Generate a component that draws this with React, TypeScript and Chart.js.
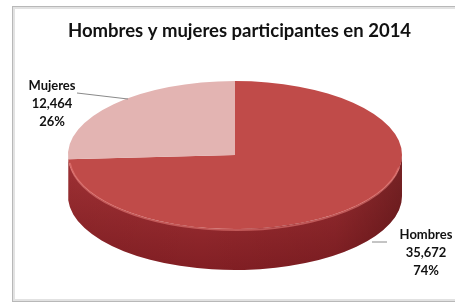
import React, { useEffect, useRef } from 'react';
import { Chart, registerables } from 'chart.js';

Chart.register(...registerables);

const categories = ['Hombres', 'Mujeres'];
const values = [35672, 12464];
const titleText = 'Hombres y mujeres participantes en 2014';
const topColors = ['#C04B49', '#E3B4B2'];
const sideTopColors = ['#A9363A', '#C99593'];
const sideBottomColors = ['#821F24', '#A06A68'];

const total = values.reduce((a, b) => a + b, 0);
const valueLabels = values.map((v) => v.toLocaleString('en-US'));
const percentLabels = values.map((v) => Math.round((v / total) * 100) + '%');

const FONT = 'Lato, "Open Sans", "DejaVu Sans", sans-serif';

const framePlugin = {
  id: 'frame',
  beforeDraw(chart: any) {
    const ctx = chart.ctx;
    ctx.save();
    ctx.fillStyle = '#ffffff';
    ctx.fillRect(0, 0, chart.width, chart.height);
    ctx.strokeStyle = '#e2e2e2';
    ctx.lineWidth = 3;
    ctx.strokeRect(13.5, 7.5, 470, 293);
    ctx.strokeStyle = '#b8b8b8';
    ctx.lineWidth = 1;
    ctx.strokeRect(12.5, 6.5, 470, 295);
    ctx.restore();
  },
};

const pie3dPlugin = {
  id: 'pie3d',
  beforeDatasetDraw(chart: any, args: any, opts: any) {
    const ctx = chart.ctx;
    const arcs = args.meta.data;
    const { cx, cy, rx, ry, depth } = opts;
    arcs.forEach((arc: any, i: number) => {
      const ranges = [
        [0, Math.PI],
        [2 * Math.PI, 3 * Math.PI],
        [-2 * Math.PI, -Math.PI],
      ];
      ranges.forEach(([lo, hi]) => {
        const a = Math.max(arc.startAngle, lo);
        const b = Math.min(arc.endAngle, hi);
        if (b <= a) return;
        const g = ctx.createLinearGradient(0, cy, 0, cy + ry + depth);
        g.addColorStop(0, sideTopColors[i]);
        g.addColorStop(1, sideBottomColors[i]);
        ctx.save();
        ctx.beginPath();
        ctx.ellipse(cx, cy, rx, ry, 0, a, b, false);
        ctx.lineTo(cx + rx * Math.cos(b), cy + ry * Math.sin(b) + depth);
        ctx.ellipse(cx, cy + depth, rx, ry, 0, b, a, true);
        ctx.closePath();
        ctx.fillStyle = g;
        ctx.fill();
        ctx.restore();
      });
    });
    ctx.save();
    ctx.beginPath();
    ctx.ellipse(cx, cy, rx, ry, 0, 0, Math.PI, false);
    ctx.lineTo(cx - rx, cy + depth);
    ctx.ellipse(cx, cy + depth, rx, ry, 0, Math.PI, 0, true);
    ctx.closePath();
    const hg = ctx.createLinearGradient(cx - rx, 0, cx + rx, 0);
    hg.addColorStop(0, 'rgba(60,0,0,0.08)');
    hg.addColorStop(0.4, 'rgba(60,0,0,0)');
    hg.addColorStop(0.8, 'rgba(40,0,0,0.10)');
    hg.addColorStop(1, 'rgba(30,0,0,0.35)');
    ctx.fillStyle = hg;
    ctx.fill();
    ctx.restore();
    const a0 = arcs[0];
    const r = a0.outerRadius;
    ctx.save();
    ctx.translate(cx, cy);
    ctx.scale(rx / r, ry / r);
    ctx.translate(-a0.x, -a0.y);
  },
  afterDatasetDraw(chart: any, args: any, opts: any) {
    const ctx = chart.ctx;
    ctx.restore();
    const { cx, cy, rx, ry } = opts;
    ctx.save();
    ctx.beginPath();
    ctx.ellipse(cx, cy + 1, rx - 1, ry, 0, 0.05 * Math.PI, 0.97 * Math.PI, false);
    ctx.strokeStyle = 'rgba(235,130,125,0.55)';
    ctx.lineWidth = 2;
    ctx.stroke();
    ctx.restore();
  },
};

const labelPlugin = {
  id: 'sliceLabels',
  afterDraw(chart: any, _args: any, opts: any) {
    const ctx = chart.ctx;
    ctx.save();
    ctx.font = `bold 13px ${FONT}`;
    ctx.fillStyle = '#111';
    ctx.textAlign = 'center';
    ctx.textBaseline = 'middle';
    opts.items.forEach((it: any, i: number) => {
      const lines = [categories[i], valueLabels[i], percentLabels[i]];
      lines.forEach((t, k) => ctx.fillText(t, it.x, it.y + k * 18));
      ctx.beginPath();
      ctx.moveTo(it.line[0], it.line[1]);
      ctx.lineTo(it.line[2], it.line[3]);
      ctx.strokeStyle = '#8a8a8a';
      ctx.lineWidth = 1;
      ctx.stroke();
    });
    ctx.restore();
  },
};

export default function App() {
  const ref = useRef<HTMLCanvasElement | null>(null);
  useEffect(() => {
    if (!ref.current) return;
    const chart = new Chart(ref.current, {
      type: 'pie',
      data: {
        labels: categories,
        datasets: [
          {
            data: values,
            backgroundColor: topColors,
            borderWidth: 0,
          },
        ],
      },
      options: {
        responsive: false,
        animation: false,
        events: [],
        devicePixelRatio: 1,
        layout: { padding: { left: 24, right: 0, top: 0, bottom: 0 } },
        plugins: {
          legend: { display: false },
          tooltip: { enabled: false },
          title: {
            display: true,
            text: titleText,
            color: '#111',
            font: { family: FONT, size: 18.5, weight: 'bold' },
            padding: { top: 20, bottom: 10 },
          },
          pie3d: { cx: 235, cy: 155, rx: 167, ry: 74, depth: 41 },
          sliceLabels: {
            items: [
              { x: 426, y: 235, line: [372, 242, 387, 242] },
              { x: 52, y: 86, line: [77, 93, 128, 99] },
            ],
          },
        } as any,
      },
      plugins: [framePlugin, pie3dPlugin, labelPlugin],
    });
    return () => chart.destroy();
  }, []);
  return (
    <div style={{ position: 'fixed', left: 0, top: 0, width: 455, height: 306 }}>
      <canvas ref={ref} width={455} height={306} style={{ display: 'block' }} />
    </div>
  );
}
